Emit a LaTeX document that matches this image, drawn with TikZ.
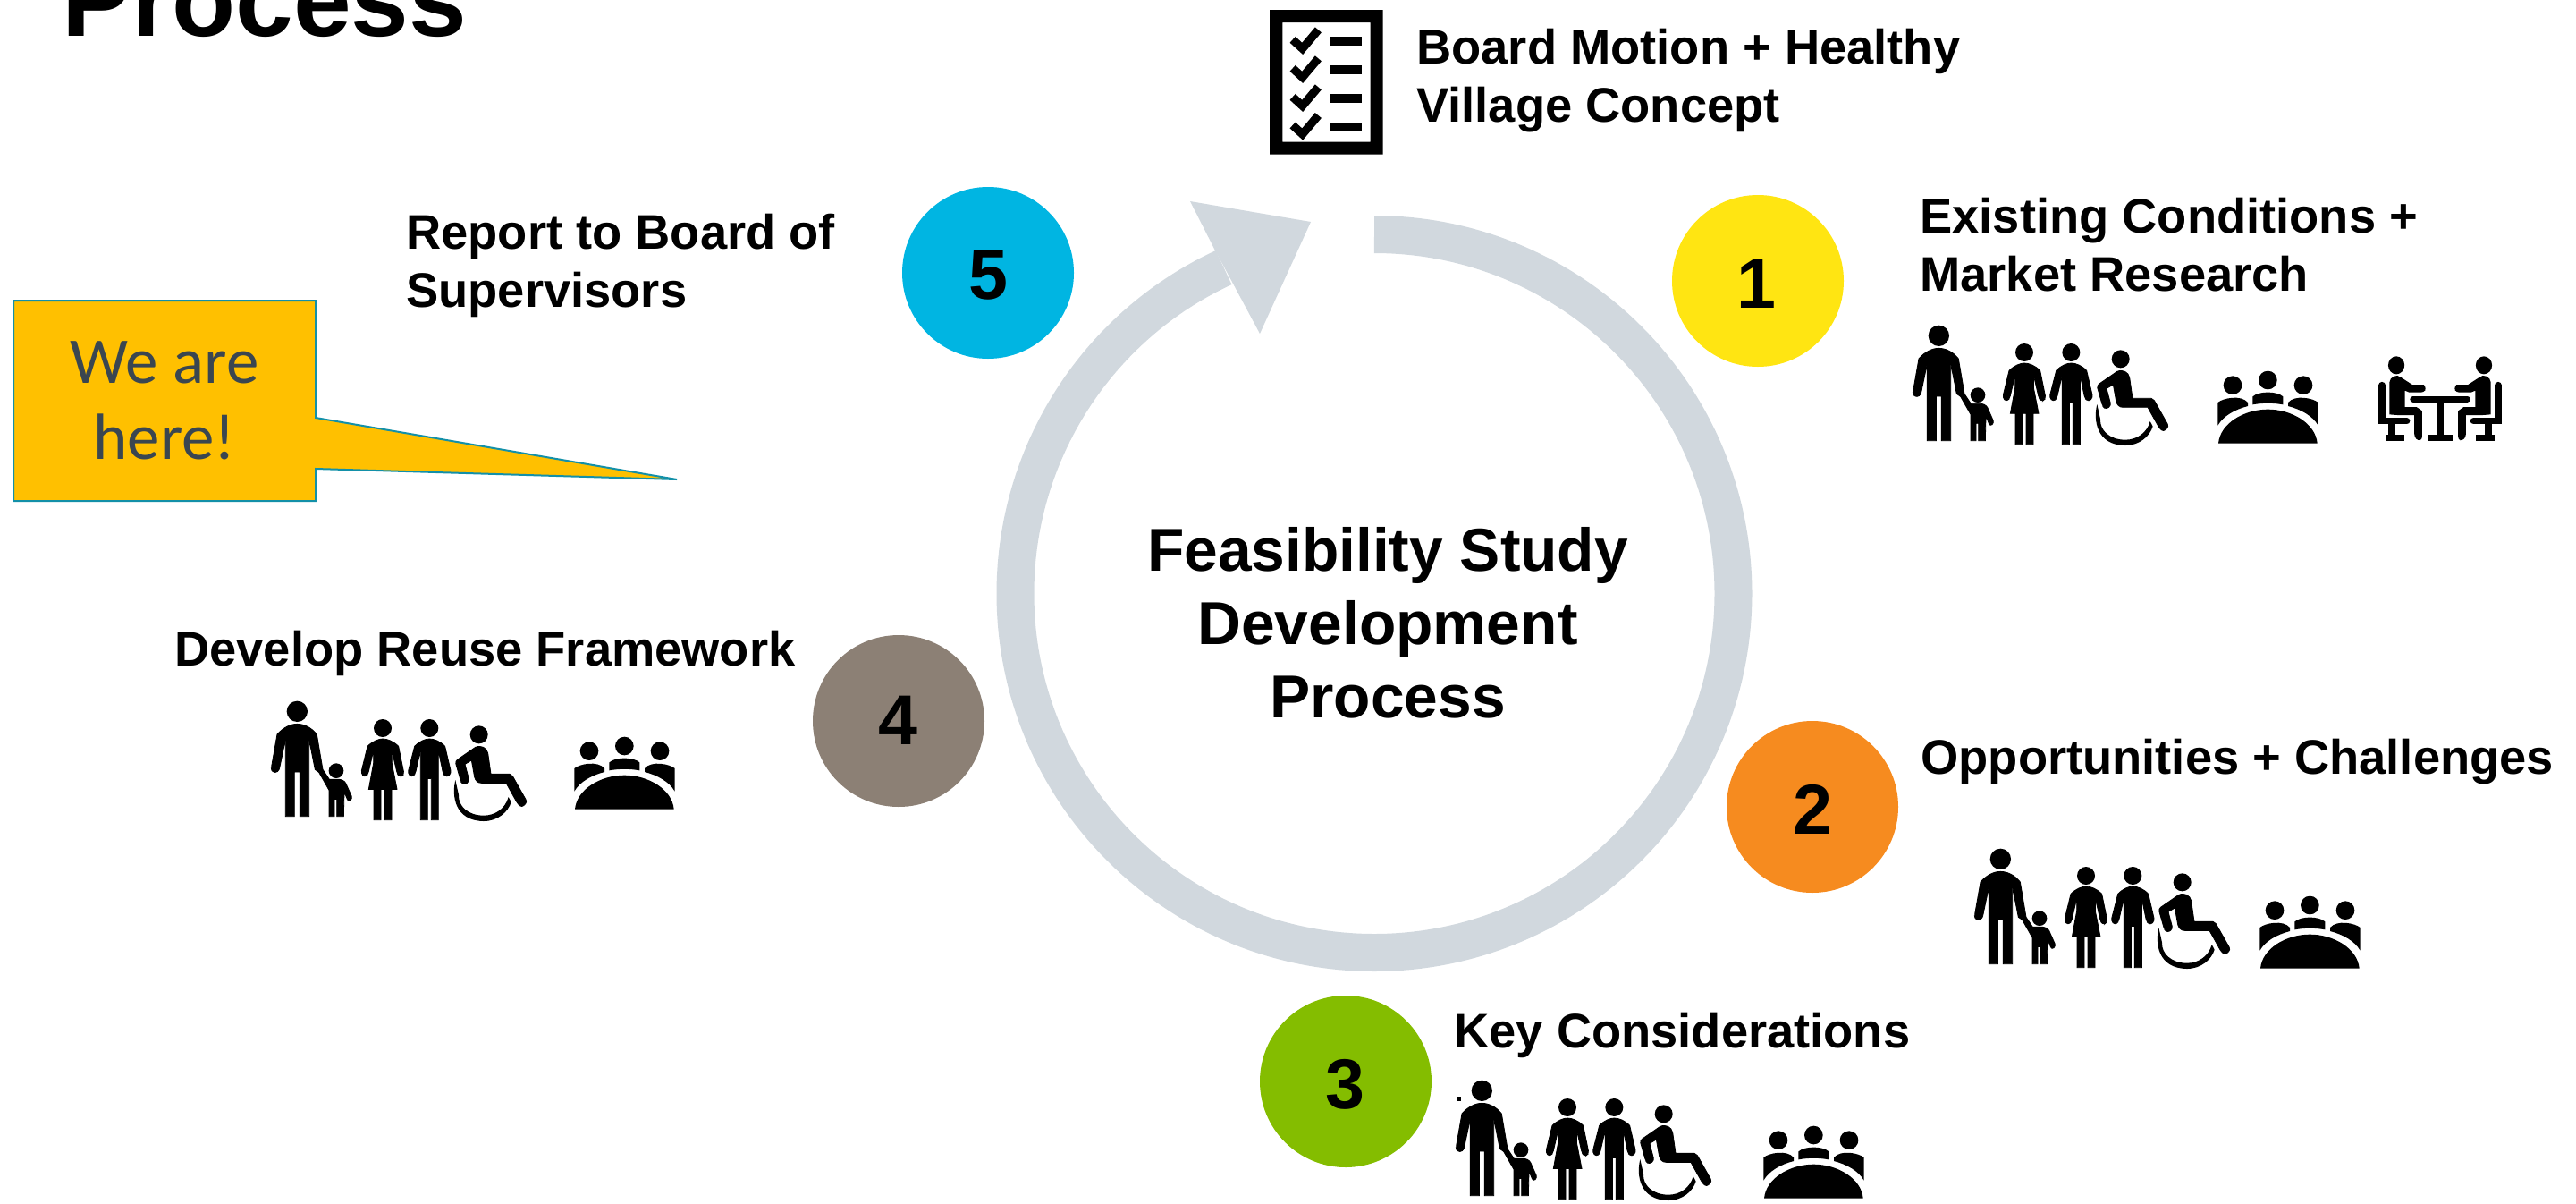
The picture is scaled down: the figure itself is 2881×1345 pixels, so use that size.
\documentclass[tikz,border=0pt]{standalone}
\usepackage{fontspec}
\setmainfont{Liberation Sans}
\newfontfamily\calloutfont{Carlito}
\definecolor{ringgrey}{HTML}{D1D8DE}
\definecolor{cblue}{HTML}{00B5E2}
\definecolor{cyellow}{HTML}{FFE512}
\definecolor{corange}{HTML}{F68B1F}
\definecolor{cgreen}{HTML}{84BD00}
\definecolor{cbrown}{HTML}{8C8075}
\definecolor{calloutfill}{HTML}{FFC000}
\definecolor{calloutline}{HTML}{1390A8}
\definecolor{callouttext}{HTML}{3A4650}
\tikzset{
  numdisc/.style={circle,minimum size=96pt,inner sep=0pt,font=\fontsize{39.5pt}{40pt}\selectfont\bfseries},
  numtext/.style={inner sep=0pt,font=\fontsize{39.5pt}{40pt}\selectfont\bfseries},
  steplabel/.style={anchor=north west,align=left,inner sep=0pt,font=\fontsize{27.15pt}{32.6pt}\selectfont\bfseries},
  centrelabel/.style={align=center,inner sep=0pt,font=\fontsize{33.85pt}{41pt}\selectfont\bfseries},
  titlelabel/.style={anchor=base west,inner sep=0pt,font=\fontsize{58.2pt}{60pt}\selectfont\bfseries},
  calloutlabel/.style={align=center,inner sep=0pt,text=callouttext,font=\calloutfont\fontsize{36.5pt}{42.5pt}\selectfont},
}
\newcommand{\FamilyIcon}[2]{%
\begin{scope}[shift={(#1,#2)},x=0.16667pt,y=-0.16667pt,line width=0.4pt]
 % man with child
 \fill (172,88) circle[radius=35];
 \filldraw (133,440) -- (133,182) -- (113,278) [rounded corners=1.5pt] -- (108,292) -- (88,292) -- (85,278) [sharp corners] -- (105,165)
   .. controls (125,142) and (150,130) .. (172,130) .. controls (195,130) and (220,142) .. (238,165)
   -- (258,283) -- (280,316) -- (315,316) .. controls (330,318) and (336,328) .. (338,335) [rounded corners=1.5pt] -- (358,380) -- (344,392) -- (330,358) [sharp corners]
   -- (328,440) -- (305,440) -- (305,382) -- (297,382) -- (297,440) -- (279,440) -- (279,352) -- (245,292) -- (232,283) -- (212,182) -- (212,440) -- (181,440) -- (181,291) -- (163,291) -- (163,440) -- cycle;
 \fill (303,287) circle[radius=25];
 % woman
 \fill (459,144) circle[radius=30];
 \filldraw (408,205) .. controls (425,188) and (445,180) .. (459,180) .. controls (475,180) and (495,188) .. (512,205)
   [rounded corners=1.5pt] -- (531,298) -- (518,309) -- (508,298) [sharp corners] -- (490,220) -- (490,262) -- (507,349) -- (489,349) -- (489,452) -- (465,452) -- (465,349) -- (453,349) -- (453,452) -- (429,452) -- (429,349) -- (412,349) -- (428,262) -- (428,220) [rounded corners=1.5pt] -- (410,298) -- (398,309) -- (386,295) [sharp corners] -- cycle;
 % man
 \fill (616,144) circle[radius=30];
 \filldraw (566,205) .. controls (582,188) and (602,180) .. (616,180) .. controls (632,180) and (652,188) .. (668,205)
   [rounded corners=1.5pt] -- (689,295) -- (675,309) -- (662,298) [sharp corners] -- (646,220) -- (646,452) -- (622,452) -- (622,313) -- (610,313) -- (610,452) -- (586,452) -- (586,220) [rounded corners=1.5pt] -- (568,298) -- (556,309) -- (543,295) [sharp corners] -- cycle;
 % wheelchair user
 \fill (782,166) circle[radius=30];
 \filldraw (770,208) .. controls (790,200) and (808,210) .. (812,228) -- (822,298) -- (885,298) -- (895,305) [rounded corners=1.5pt] -- (944,392) -- (926,410) -- (912,398) [sharp corners] -- (873,328) -- (790,328) .. controls (778,328) and (770,320) .. (767,308) -- (757,252) -- (735,265) [rounded corners=1.5pt] -- (750,322) -- (733,335) -- (722,325) -- (702,255) [sharp corners] -- cycle;
 \fill (703,318) .. controls (690,370) and (700,455) .. (798,456) .. controls (845,456) and (880,425) .. (890,392) -- (881,375) .. controls (870,415) and (835,437) .. (798,437) .. controls (745,437) and (712,405) .. (714,368) -- cycle;
\end{scope}}
\newcommand{\TableIcon}[2]{%
\begin{scope}[shift={(#1,#2)},x=0.16667pt,y=-0.16667pt]
 \fill (1167,257) circle[radius=31];
 \fill (1285,240) circle[radius=31];
 \fill (1404,257) circle[radius=31];
 \fill (1117,392) -- (1117,315) .. controls (1135,300) and (1195,288) .. (1218,315) -- (1218,327) .. controls (1175,338) and (1135,360) .. (1117,392) -- cycle;
 \fill (1234,322) -- (1234,295) .. controls (1255,276) and (1315,276) .. (1336,295) -- (1336,322) .. controls (1305,316) and (1265,316) .. (1234,322) -- cycle;
 \fill (1454,392) -- (1454,315) .. controls (1436,300) and (1376,288) .. (1353,315) -- (1353,327) .. controls (1396,338) and (1436,360) .. (1454,392) -- cycle;
 \fill (1119,452) .. controls (1125,385) and (1205,338) .. (1285,338) .. controls (1365,338) and (1445,385) .. (1451,452) -- cycle;
\end{scope}}
\newcommand{\HalfMeeting}{%
 \fill (-102,205) ellipse[x radius=19,y radius=30];
 \fill (-118,370) -- (-118,262) .. controls (-118,245) and (-100,232) .. (-92,245) -- (-65,270) -- (-38,270) [rounded corners=1.5pt] -- (-32,283) -- (-38,296) [sharp corners] -- (-72,296) -- (-82,290) -- (-82,345) -- (-55,345) -- (-42,358) [rounded corners=1.5pt] -- (-42,455) -- (-52,458) -- (-60,445) [sharp corners] -- (-60,372) -- (-100,372) -- cycle;
 \draw[line width=3.8pt,line cap=round] (-135,272) -- (-135,392) -- (-78,392);
 \fill (-120,392) rectangle (-104,440);
 \fill (-127,437) rectangle (-83,460);
}
\newcommand{\MeetingIcon}{%
\begin{scope}[shift={(2105,340)},x=0.24pt,y=-0.16667pt]
 \begin{scope}[shift={(1300,0)}]
  \HalfMeeting
  \begin{scope}[xscale=-1] \HalfMeeting \end{scope}
  \draw[line width=3.5pt,line cap=round] (-63,318) -- (63,318);
  \fill (-8,318) rectangle (8,440);
  \fill (-30,437) rectangle (30,460);
 \end{scope}
\end{scope}}
\newcommand{\CheckRow}[1]{%
 \draw[line width=4.6pt] (197,133+#1) -- (230,163+#1) -- (283,100+#1);
 \fill (320,123+#1) rectangle (428,153+#1);
}
\begin{document}
\begin{tikzpicture}[x=0.5pt,y=-0.5pt]
\useasboundingbox (0,0) rectangle (2881,1345);
\clip (0,0) rectangle (2881,1345);

% title fragment
\node[titlelabel] (title) at (69,40) {Process};

% ring with arrow
\draw[ringgrey,line width=21pt] (1537,262) arc[start angle=90,end angle=-245.2,radius=200.75pt];
\fill[ringgrey] (1466,248) -- (1331,225) -- (1359,280) -- (1379,317) -- (1409,373) -- cycle;

% centre label
\node[centrelabel] (centre) at (1552,696) {Feasibility Study\\Development\\Process};

% checklist
\begin{scope}[shift={(1380,0)},x=0.16667pt,y=-0.16667pt]
 \fill[even odd rule] (120,33) rectangle (500,518) (163,75) rectangle (458,476);
 \CheckRow{0}\CheckRow{96}\CheckRow{192}\CheckRow{287}
\end{scope}

% step discs
\node[numdisc,fill=cblue] (d5) at (1105,305) {};
\node[numtext] (n5) at (1105,308) {5};
\node[numdisc,fill=cyellow] (d1) at (1966,314) {};
\node[numtext] (n1) at (1964,317) {1};
\node[numdisc,fill=corange] (d2) at (2027,902) {};
\node[numtext] (n2) at (2027,905) {2};
\node[numdisc,fill=cgreen] (d3) at (1505,1209) {};
\node[numtext] (n3) at (1504,1212) {3};
\node[numdisc,fill=cbrown] (d4) at (1005,806) {};
\node[numtext] (n4) at (1004,805) {4};

% labels
\node[steplabel] (board) at (1584,32) {Board Motion + Healthy\\Village Concept};
\node[steplabel] (report) at (454,239) {Report to Board of\\Supervisors};
\node[steplabel] (exist) at (2147,221) {Existing Conditions +\\Market Research};
\node[steplabel] (opp) at (2148,826) {Opportunities + Challenges};
\node[steplabel] (key) at (1626,1132) {Key Considerations};
\node[steplabel] (dev) at (195,705) {Develop Reuse Framework};

% icons
\FamilyIcon{2111}{346}
\TableIcon{2108}{345}
\MeetingIcon
\FamilyIcon{2180}{931}
\TableIcon{2155}{932}
\FamilyIcon{1600}{1190}
\TableIcon{1600}{1189}
\fill (1629,1226) rectangle (1634,1231);
\FamilyIcon{275}{766}
\TableIcon{270}{754}

% callout
\filldraw[fill=calloutfill,draw=calloutline,line width=1pt]
  (15,336) -- (353,336) -- (353,467) -- (757,536) -- (353,524) -- (353,560) -- (15,560) -- cycle;
\node[calloutlabel] (here) at (184,448) {We are\\here!};
\end{tikzpicture}
\end{document}
